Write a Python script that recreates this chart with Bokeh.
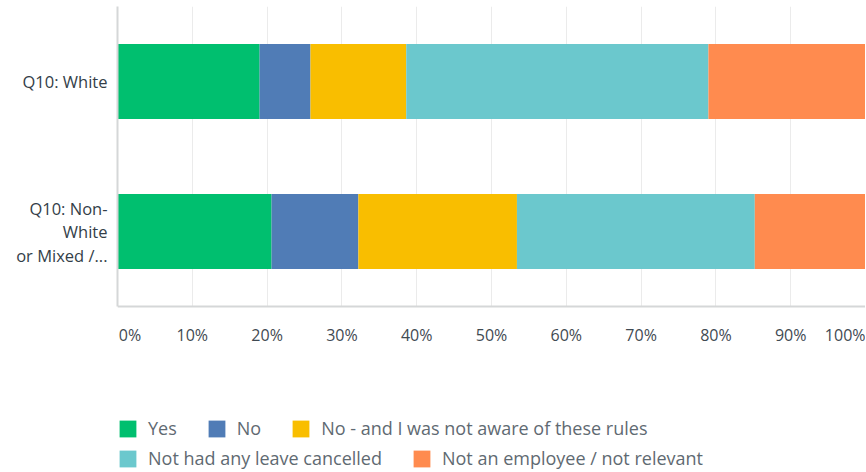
from bokeh.plotting import figure
from bokeh.models import Legend, LegendItem, FixedTicker, ColumnDataSource, Range1d
from bokeh.embed import file_html
from bokeh.resources import INLINE

categories = ["Q10: Non-White or Mixed /...", "Q10: White"]
category_label_lines = [["Q10: Non-", "White", "or Mixed /..."], ["Q10: White"]]
series = ["Yes", "No", "No - and I was not aware of these rules",
          "Not had any leave cancelled", "Not an employee / not relevant"]
yes = [20.6, 19.0]
no = [11.6, 6.8]
no_unaware = [21.2, 12.8]
not_had = [31.8, 40.4]
not_employee = [14.8, 21.0]
colors = ["#00BF6F", "#507CB6", "#F9BE00", "#6BC8CD", "#FF8B4F"]
tick_values = [0, 10, 20, 30, 40, 50, 60, 70, 80, 90, 100]
tick_labels = ["0%", "10%", "20%", "30%", "40%", "50%", "60%", "70%", "80%", "90%", "100%"]

FONT = "Open Sans"
BARS_H = 300      # pixel height of the bar area
LEGEND_H = 165    # pixel height of the legend area below it (inside the frame)
LINE_PX = 23.5

n = len(categories)
unit_px = BARS_H / n
keys = ["s0", "s1", "s2", "s3", "s4"]
source = ColumnDataSource(dict(cat=categories, pos=[i + 0.5 for i in range(n)],
                               s0=yes, s1=no, s2=no_unaware, s3=not_had, s4=not_employee))

p = figure(frame_width=748, frame_height=BARS_H + LEGEND_H, output_backend="svg",
           toolbar_location=None,
           y_range=Range1d(-LEGEND_H / unit_px, n), x_range=Range1d(0, 100),
           min_border_left=117, min_border_right=0, min_border_top=6, min_border_bottom=0)
p.outline_line_color = None
p.background_fill_color = "white"

renderers = p.hbar_stack(keys, y="pos", height=0.5, color=colors, line_color=None, source=source)

# x axis, drawn at the bottom of the bar area
xax = p.xaxis[0]
xax.fixed_location = 0
xax.ticker = FixedTicker(ticks=tick_values)
overrides = {v: l for v, l in zip(tick_values, tick_labels)}
overrides[0] = "\u00a0" * 6 + tick_labels[0]
xax.major_label_overrides = overrides
xax.major_tick_line_color = None
xax.minor_tick_line_color = None
xax.axis_line_color = "#d5d7d8"
xax.axis_line_width = 2
xax.major_label_standoff = 11
xax.major_label_text_font = FONT
xax.major_label_text_font_size = "16px"
xax.major_label_text_color = "#3f4a52"

# y axis: category labels, one tick per text line
ticks, label_map = [], {}
for i, lines in enumerate(category_label_lines):
    k = len(lines)
    for j, line in enumerate(lines):
        pos = i + 0.5 + ((k - 1) / 2 - j) * LINE_PX / unit_px
        ticks.append(pos)
        label_map[pos] = line
ticks.sort()
yax = p.yaxis[0]
yax.bounds = (0, n)
yax.ticker = FixedTicker(ticks=ticks)
yax.major_label_overrides = label_map
yax.major_tick_line_color = None
yax.minor_tick_line_color = None
yax.axis_line_color = "#d5d7d8"
yax.axis_line_width = 2
yax.major_label_standoff = 4
yax.major_label_text_font = FONT
yax.major_label_text_font_size = "16.5px"
yax.major_label_text_color = "#333e48"

p.xgrid.grid_line_color = "#ebebeb"
p.xgrid.grid_line_width = 1
p.xgrid.cross_bounds = (0, n)
p.ygrid.grid_line_color = None

items = [LegendItem(label=s, renderers=[r]) for s, r in zip(series, renderers)]

def make_legend(its, loc):
    return Legend(items=its, orientation="horizontal", location=loc,
                  border_line_color=None, background_fill_alpha=0,
                  glyph_width=21, glyph_height=21, label_standoff=10, spacing=29,
                  padding=0, margin=0, label_text_font=FONT, label_text_font_size="18px",
                  label_text_color="#5f6a72", label_height=21)

p.add_layout(make_legend(items[:3], (0, 31)), "center")
p.add_layout(make_legend(items[3:], (0, 1)), "center")

open("out.html", "w").write(file_html(p, INLINE))
